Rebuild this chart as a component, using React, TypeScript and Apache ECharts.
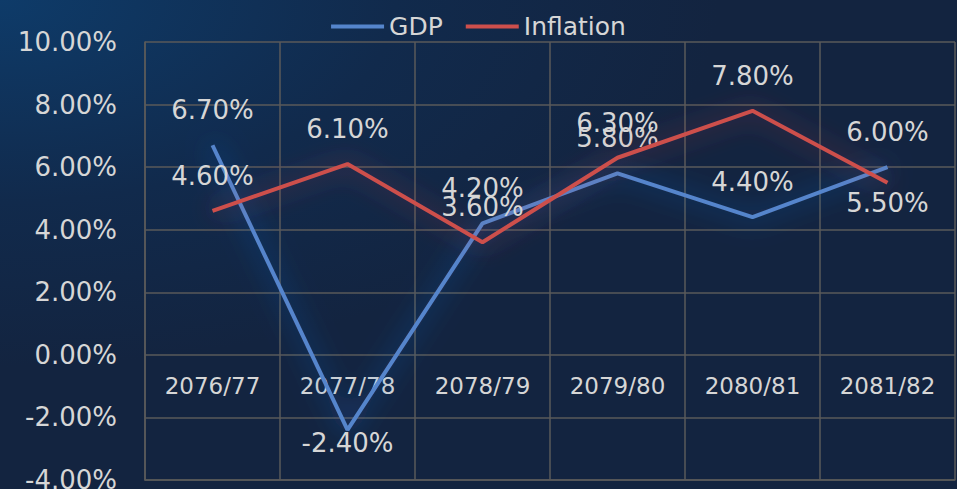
import React, { useEffect, useRef } from "react";
import * as echarts from "echarts";

const categories = ["2076/77", "2077/78", "2078/79", "2079/80", "2080/81", "2081/82"];
const gdp = [6.7, -2.4, 4.2, 5.8, 4.4, 6.0];
const inflation = [4.6, 6.1, 3.6, 6.3, 7.8, 5.5];
const gdpBelow = [1]; // indexes whose label sits below the point
const inflationBelow = [5];

const FONT = "DejaVu Sans";
const TEXT = "#d6d6d6";
const Y_MIN = -4;
const Y_MAX = 10;
const GRID_TOP = 42;
const GRID_BOTTOM = 9;
const H = 489;

function toData(values: number[], below: number[], dist: number[]) {
  return values.map((v, i) =>
    below.includes(i)
      ? { value: v, label: { position: "bottom", distance: dist[i] ?? 4 } }
      : { value: v }
  );
}

export default function App() {
  const ref = useRef<HTMLDivElement>(null);
  useEffect(() => {
    const chart = echarts.init(ref.current!, null, { renderer: "svg" });
    const labelCommon = {
      show: true,
      position: "top",
      distance: 22,
      color: TEXT,
      fontFamily: FONT,
      fontSize: 26,
      formatter: (p: any) => Number(p.value).toFixed(2) + "%",
    };
    const plotH = H - GRID_TOP - GRID_BOTTOM;
    const zeroOffset = -((0 - Y_MIN) / (Y_MAX - Y_MIN)) * plotH;
    chart.setOption({
      animation: false,
      backgroundColor: {
        type: "radial",
        x: 0,
        y: 0,
        r: 0.75,
        colorStops: [
          { offset: 0, color: "#0e3b69" },
          { offset: 0.55, color: "#112a4c" },
          { offset: 1, color: "#132440" },
        ],
      },
      legend: {
        top: 9,
        left: "center",
        itemWidth: 53,
        itemHeight: 4,
        itemGap: 23,
        icon: "rect",
        textStyle: { color: TEXT, fontFamily: FONT, fontSize: 25 },
        data: ["GDP", "Inflation"],
      },
      grid: {
        left: 145,
        right: 2,
        top: GRID_TOP,
        bottom: GRID_BOTTOM,
        containLabel: false,
        outerBoundsMode: "none",
      },
      xAxis: [
        {
          type: "category",
          data: categories,
          boundaryGap: true,
          axisLine: { show: true, onZero: false, lineStyle: { color: "#5a5a5a", width: 1.5 } },
          axisTick: { show: false },
          axisLabel: { show: false },
          splitLine: { show: true, lineStyle: { color: "#5a5a5a", width: 1.5 } },
        },
        {
          type: "category",
          data: categories,
          position: "bottom",
          offset: zeroOffset,
          boundaryGap: true,
          axisLine: { show: false, onZero: false },
          axisTick: { show: false },
          axisLabel: { color: TEXT, fontFamily: FONT, fontSize: 23, margin: 20 },
          splitLine: { show: false },
        },
      ],
      yAxis: {
        type: "value",
        min: Y_MIN,
        max: Y_MAX,
        interval: 2,
        axisLine: { show: true, onZero: false, lineStyle: { color: "#5a5a5a", width: 1.5 } },
        axisTick: { show: false },
        axisLabel: {
          color: TEXT,
          fontFamily: FONT,
          fontSize: 26,
          margin: 28,
          formatter: (v: number) => v.toFixed(2) + "%",
        },
        splitLine: { show: true, lineStyle: { color: "#5a5a5a", width: 1.5 } },
      },
      series: [
        {
          name: "GDP",
          type: "line",
          data: toData(gdp, gdpBelow, [0, 0, 0, 0, 0, 0]),
          symbol: "circle",
          symbolSize: 0,
          color: "#5585cc",
          lineStyle: {
            width: 4,
            color: "#5585cc",
            shadowBlur: 26,
            shadowColor: "rgba(40,110,220,0.75)",
          },
          label: labelCommon,
          z: 3,
        },
        {
          name: "Inflation",
          type: "line",
          data: toData(inflation, inflationBelow, [0, 0, 0, 0, 0, 7]),
          symbol: "circle",
          symbolSize: 0,
          color: "#cd4f4c",
          lineStyle: {
            width: 4,
            color: "#cd4f4c",
            shadowBlur: 26,
            shadowColor: "rgba(200,70,80,0.65)",
          },
          label: labelCommon,
          z: 4,
        },
      ],
    });
    return () => chart.dispose();
  }, []);
  return <div ref={ref} style={{ width: 957, height: 489, position: "absolute", left: 0, top: 0 }} />;
}
